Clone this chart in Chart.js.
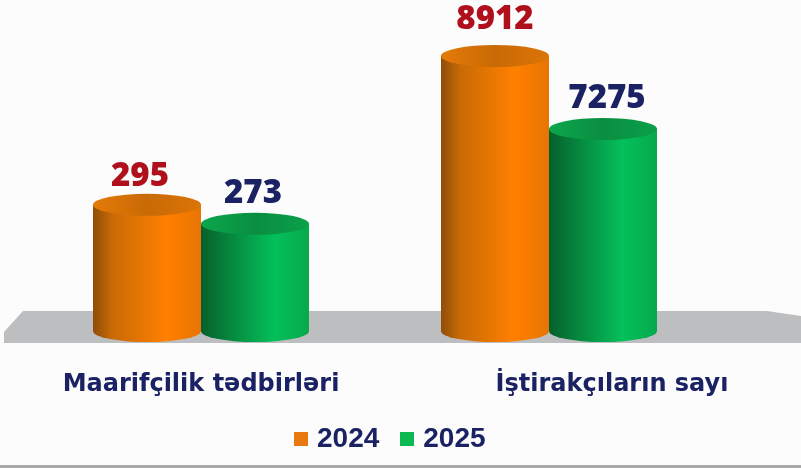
<!DOCTYPE html>
<html><head><meta charset="utf-8">
<style>html,body{margin:0;padding:0;background:#fff}canvas{display:block}</style>
<script src="https://cdn.jsdelivr.net/npm/chart.js@4"></script>
</head><body><canvas id="c" width="801" height="468"></canvas>
<script>
const categories = ['Maarifçilik tədbirləri', 'İştirakçıların sayı'];
const seriesNames = ['2024', '2025'];
const values2024 = [295, 8912];
const values2025 = [273, 7275];

const NAVY = '#1a2263', RED = '#b0101c';
const swatch = { '2024': '#e8790f', '2025': '#0cb852' };
const tubes = {
  '2024': { side: ['#8f4d08', '#c96a06', '#ff8000', '#e87403'], cap: ['#e57a08', '#c86a05', '#dc7407'], text: RED },
  '2025': { side: ['#05602b', '#067a38', '#04c05a', '#07a94c'], cap: ['#0ca64c', '#0a8e41', '#0aa049'], text: NAVY }
};
const labelNudge = [[-7, -28], [-2, -30], [0, -36], [4, -30]];

function makeSet(name, vals, i, axis) {
  const d = [null, null]; d[i] = vals[i];
  return { label: name, data: d, yAxisID: axis, stack: name, backgroundColor: swatch[name], barThickness: 108 };
}

function swatchImage(color) {
  const cv = document.createElement('canvas');
  cv.width = 14; cv.height = 14;
  const c = cv.getContext('2d');
  c.fillStyle = color; c.fillRect(0, 0, 14, 14);
  return cv;
}

const cylinders = {
  id: 'cylinders',
  beforeDraw(chart) {
    const { ctx } = chart;
    ctx.save();
    ctx.fillStyle = '#fcfcfc'; ctx.fillRect(0, 0, 801, 468);
    ctx.fillStyle = '#a8a8a8'; ctx.fillRect(0, 465, 801, 3);
    ctx.fillStyle = '#bdbec0';
    ctx.beginPath();
    ctx.moveTo(4, 343); ctx.lineTo(4, 332); ctx.lineTo(23, 311); ctx.lineTo(767, 311); ctx.lineTo(801, 316); ctx.lineTo(801, 343);
    ctx.closePath(); ctx.fill();
    ctx.restore();
    const x = chart.scales.x, items = x.getLabelItems(chart.chartArea);
    if (items[1] && !items[1].moved) { items[1].options.translation[0] += 63; items[1].moved = true; }
  },
  afterLayout(chart) { chart.legend.left += 17.3; chart.legend.right += 17.3; chart.legend.top -= 5; chart.legend.bottom -= 5; },
  beforeDatasetDraw(chart, args) {
    const { ctx } = chart, ds = chart.data.datasets[args.index], t = tubes[ds.label];
    args.meta.data.forEach((el, i) => {
      if (ds.data[i] == null) return;
      const { x, y, width } = el.getProps(['x', 'y', 'width'], true);
      const base = chart.chartArea.bottom;
      const l = x - width / 2, r = x + width / 2, ry = 11, rx = width / 2;
      const g = ctx.createLinearGradient(l, 0, r, 0);
      [0, .18, .68, 1].forEach((p, k) => g.addColorStop(p, t.side[k]));
      ctx.save();
      ctx.fillStyle = g;
      ctx.beginPath();
      ctx.moveTo(l, y); ctx.lineTo(l, base);
      ctx.ellipse(x, base, rx, ry, 0, Math.PI, 0, true);
      ctx.lineTo(r, y); ctx.closePath(); ctx.fill();
      const c = ctx.createLinearGradient(l, 0, r, 0);
      [0, .5, 1].forEach((p, k) => c.addColorStop(p, t.cap[k]));
      ctx.fillStyle = c;
      ctx.beginPath(); ctx.ellipse(x, y, rx, ry, 0, 0, Math.PI * 2); ctx.fill();
      ctx.restore();
    });
    return false;
  },
  afterDatasetsDraw(chart) {
    const { ctx } = chart;
    chart.data.datasets.forEach((ds, di) => {
      chart.getDatasetMeta(di).data.forEach((el, i) => {
        if (ds.data[i] == null) return;
        ctx.save();
        ctx.font = '800 33px "Open Sans"';
        ctx.textAlign = 'center'; ctx.textBaseline = 'middle';
        ctx.fillStyle = tubes[ds.label].text;
        ctx.fillText(String(ds.data[i]), el.x + labelNudge[di][0], el.y + labelNudge[di][1]);
        ctx.restore();
      });
    });
  }
};

new Chart(document.getElementById('c'), {
  type: 'bar',
  data: {
    labels: categories,
    datasets: [
      makeSet(seriesNames[0], values2024, 0, 'yLeft'),
      makeSet(seriesNames[1], values2025, 0, 'yLeft'),
      makeSet(seriesNames[0], values2024, 1, 'yRight'),
      makeSet(seriesNames[1], values2025, 1, 'yRight')
    ]
  },
  plugins: [cylinders],
  options: {
    responsive: false, animation: false,
    layout: { padding: { left: 27, right: 78, top: 0, bottom: 0 } },
    plugins: {
      tooltip: { enabled: false },
      title: { display: false },
      legend: {
        position: 'bottom',
        labels: {
          usePointStyle: true, boxWidth: 4, boxHeight: 14, padding: 26,
          font: { family: '"Liberation Sans"', size: 28, weight: 'bold' },
          color: NAVY,
          generateLabels: () => seriesNames.map((n) => ({ text: n, fillStyle: swatch[n], strokeStyle: swatch[n], pointStyle: swatchImage(swatch[n]), lineWidth: 0, fontColor: NAVY, hidden: false }))
        }
      }
    },
    scales: {
      x: {
        stacked: true,
        grid: { display: false, drawTicks: false }, border: { display: false },
        afterFit(s) { s.height = 73; },
        ticks: { color: NAVY, padding: 39, autoSkip: false, maxRotation: 0, font: { family: '"DejaVu Sans"', size: 24, weight: 'bold' } }
      },
      yLeft: { display: false, stacked: false, min: 149, max: 532 },
      yRight: { display: false, stacked: false, min: 2746, max: 10168 }
    }
  }
});
</script></body></html>
